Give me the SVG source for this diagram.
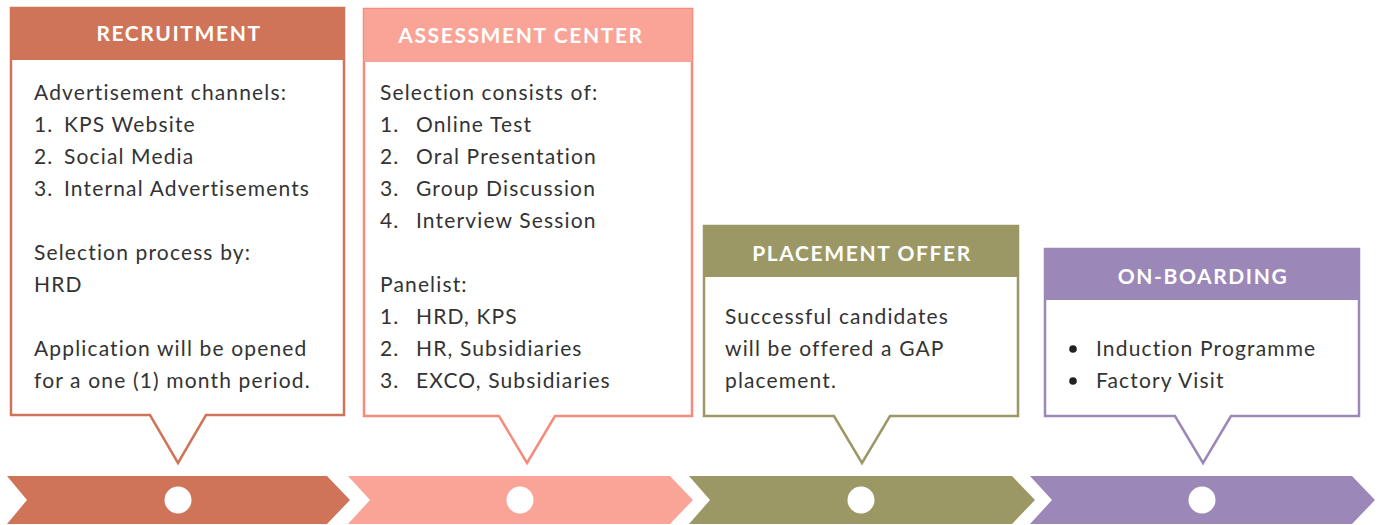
<svg xmlns="http://www.w3.org/2000/svg" width="1382" height="525" viewBox="0 0 1382 525">
<style>
.hd{font-family:Lato,"Liberation Sans",sans-serif;font-weight:bold;font-size:21px;fill:#fff;text-anchor:middle;letter-spacing:1.6px}
.tx{font-family:Lato,"Liberation Sans",sans-serif;font-size:21px;fill:#333;letter-spacing:1.15px}
.box{fill:#fff;stroke-width:2.5}
.dot{fill:#fff}
</style>
<rect width="1382" height="525" fill="#fff"/>
<g id="connectors">
<polygon points="7,476 327,476 350,500 327,524 7,524 27,500" fill="#CF7459"/>
<polygon points="348,476 670,476 693,500 670,524 348,524 370,500" fill="#F9A497"/>
<polygon points="689,476 1012,476 1035,500 1012,524 689,524 710,500" fill="#9C9866"/>
<polygon points="1030,476 1352,476 1375,500 1352,524 1030,524 1052,500" fill="#9B88B8"/>
<circle class="dot" cx="178" cy="500" r="13.5"/>
<circle class="dot" cx="520" cy="500" r="13.5"/>
<circle class="dot" cx="861" cy="500" r="13.5"/>
<circle class="dot" cx="1202" cy="500" r="13.5"/>
</g>
<g id="recruitment">
<path class="box" stroke="#CF7459" d="M11,8 H344 V415 H206 L178,463 L150,415 H11 Z"/>
<rect x="11" y="8" width="333" height="52" fill="#CF7459"/>
<text class="hd" x="179" y="41">RECRUITMENT</text>
<text class="tx" x="34" y="100">Advertisement channels:</text>
<text class="tx" x="34" y="132">1.</text><text class="tx" x="64" y="132">KPS Website</text>
<text class="tx" x="34" y="164">2.</text><text class="tx" x="64" y="164">Social Media</text>
<text class="tx" x="34" y="196">3.</text><text class="tx" x="64" y="196">Internal Advertisements</text>
<text class="tx" x="34" y="260">Selection process by:</text>
<text class="tx" x="34" y="292">HRD</text>
<text class="tx" x="34" y="356">Application will be opened</text>
<text class="tx" x="34" y="388">for a one (1) month period.</text>
</g>
<g id="assessment-center">
<path class="box" stroke="#F78A7C" d="M364,9 H692 V416 H555 L527,463 L499,416 H364 Z"/>
<rect x="364" y="9" width="328" height="53" fill="#F9A497"/>
<text class="hd" x="521" y="43">ASSESSMENT CENTER</text>
<text class="tx" x="380" y="100">Selection consists of:</text>
<text class="tx" x="380" y="132">1.</text><text class="tx" x="416" y="132">Online Test</text>
<text class="tx" x="380" y="164">2.</text><text class="tx" x="416" y="164">Oral Presentation</text>
<text class="tx" x="380" y="196">3.</text><text class="tx" x="416" y="196">Group Discussion</text>
<text class="tx" x="380" y="228">4.</text><text class="tx" x="416" y="228">Interview Session</text>
<text class="tx" x="380" y="292">Panelist:</text>
<text class="tx" x="380" y="324">1.</text><text class="tx" x="416" y="324">HRD, KPS</text>
<text class="tx" x="380" y="356">2.</text><text class="tx" x="416" y="356">HR, Subsidiaries</text>
<text class="tx" x="380" y="388">3.</text><text class="tx" x="416" y="388">EXCO, Subsidiaries</text>
</g>
<g id="placement-offer">
<path class="box" stroke="#9C9866" d="M704,226 H1018 V416 H890 L862,463 L834,416 H704 Z"/>
<rect x="704" y="226" width="314" height="51" fill="#9C9866"/>
<text class="hd" x="862" y="261">PLACEMENT OFFER</text>
<text class="tx" x="725" y="324">Successful candidates</text>
<text class="tx" x="725" y="356">will be offered a GAP</text>
<text class="tx" x="725" y="388">placement.</text>
</g>
<g id="on-boarding">
<path class="box" stroke="#9B88B8" d="M1045,249 H1359 V416 H1231 L1203,463 L1175,416 H1045 Z"/>
<rect x="1045" y="249" width="314" height="51" fill="#9B88B8"/>
<text class="hd" x="1203" y="284">ON-BOARDING</text>
<circle cx="1073" cy="349" r="3.8" fill="#222"/>
<text class="tx" x="1096" y="356">Induction Programme</text>
<circle cx="1073" cy="381" r="3.8" fill="#222"/>
<text class="tx" x="1096" y="388">Factory Visit</text>
</g>
</svg>
